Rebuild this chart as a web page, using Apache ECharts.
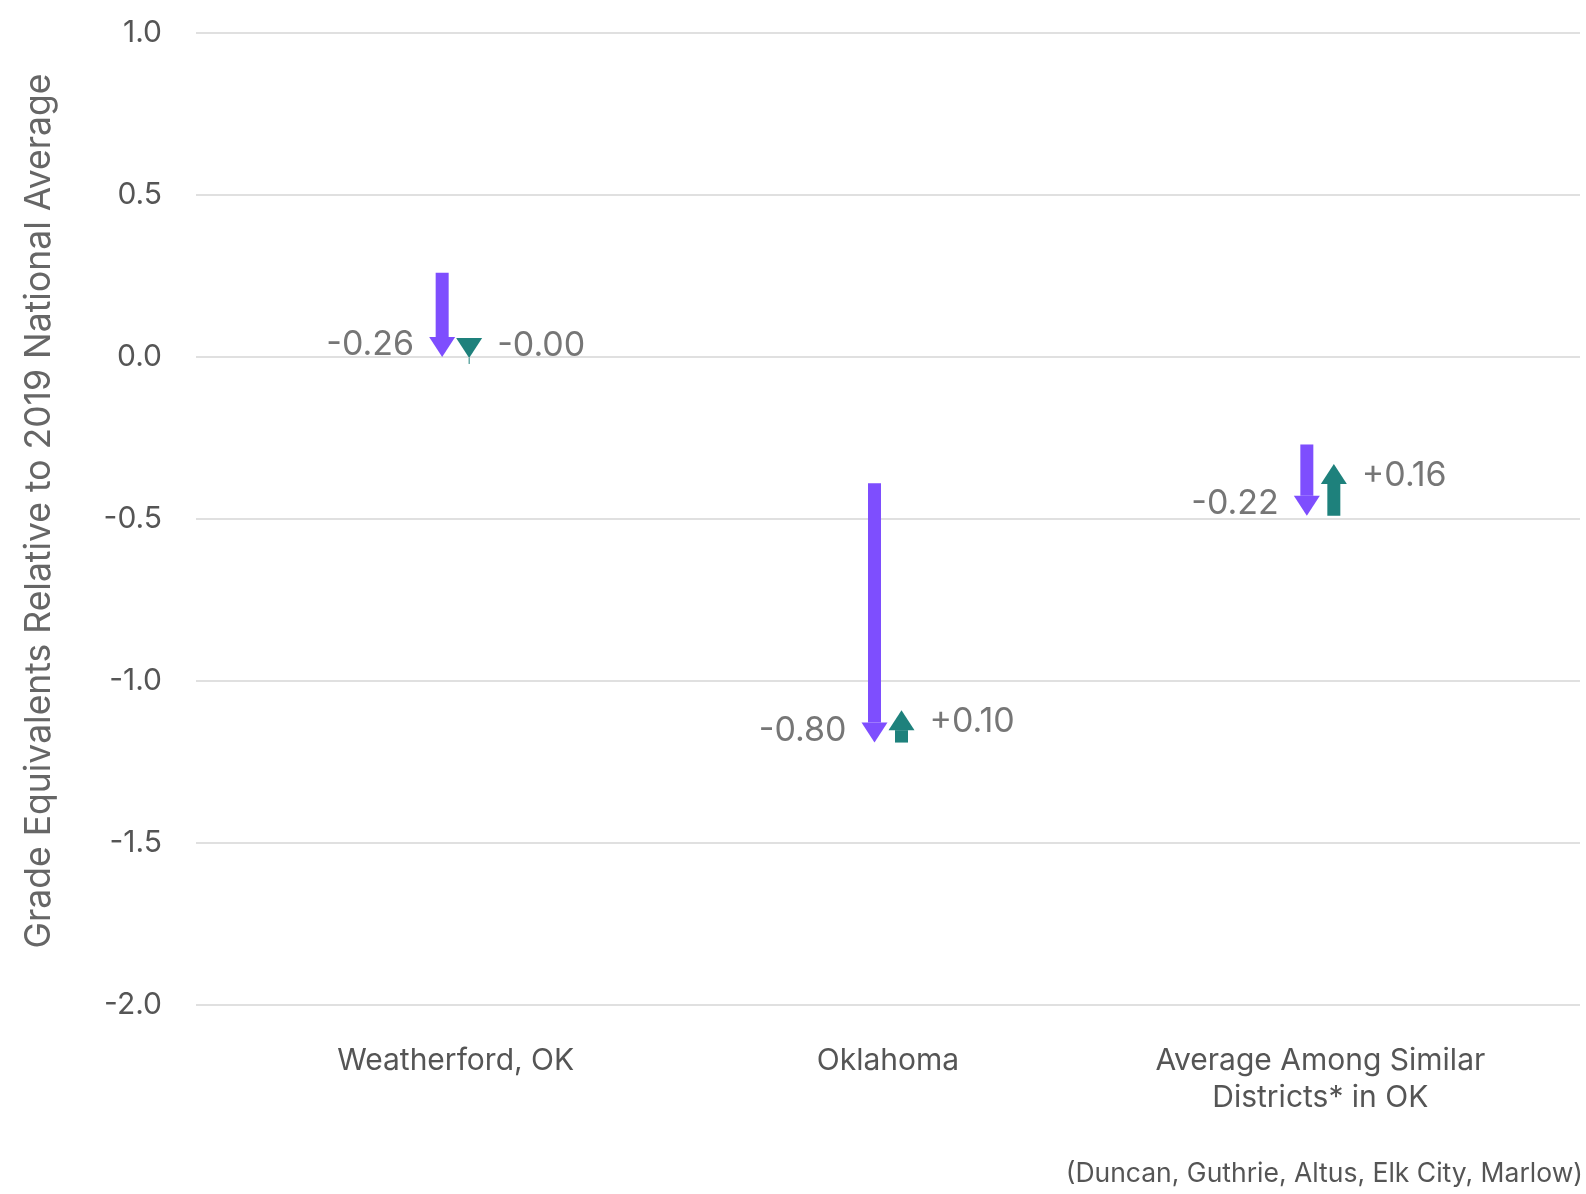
<!DOCTYPE html>
<html lang="en">
<head>
  <meta charset="UTF-8">
  <title>Grade Equivalents Relative to 2019 National Average</title>
  <script src="https://cdn.jsdelivr.net/npm/echarts@6/dist/echarts.min.js"></script>
  <style>body{margin:0;font-family:Inter}</style>
</head>
<body>
  <div id="main" style="width:1586px;height:1194px"></div>

  <script>
  // data
  const categories = ['Weatherford, OK', 'Oklahoma', 'Average Among Similar\nDistricts* in OK'];
  const start2019 = [0.26, -0.39, -0.27];      // where the purple arrow starts
  const change2022 = [-0.26, -0.80, -0.22];    // purple: 2019 -> 2022
  const change2023 = [-0.003, 0.10, 0.16];     // teal: 2022 -> 2023
  const yTicks = { min: -2, max: 1, interval: 0.5 };

  const PURPLE = '#7e4efe';
  const TEAL = '#1e817c';

  const fmt = v => (v < 0 || Object.is(v, -0) ? '-' : '+') + Math.abs(v).toFixed(2);

  const purpleData = categories.map((c, i) => [i, start2019[i], start2019[i] + change2022[i], change2022[i]]);
  const tealData = categories.map((c, i) => {
    const s = start2019[i] + change2022[i];
    return [i, s, s + change2023[i], change2023[i]];
  });

  function arrow(color, offset, side) {
    return function (params, api) {
      const idx = api.value(0);
      const p0 = api.coord([idx, api.value(1)]);
      const p1 = api.coord([idx, api.value(2)]);
      const change = api.value(3);
      const dir = change < 0 ? 1 : -1;       // 1 = pointing down on screen
      const x = p0[0] + offset;
      const headH = 20, headW = 13, shaftW = 6.5;
      const baseY = p1[1] - dir * headH;
      const children = [];
      if ((baseY - p0[1]) * dir > 0) {
        children.push({
          type: 'rect',
          shape: { x: x - shaftW, y: Math.min(p0[1], baseY), width: shaftW * 2, height: Math.abs(baseY - p0[1]) },
          style: { fill: color }
        });
      } else {
        // tiny change: only a hairline stem under the head
        children.push({
          type: 'line',
          shape: { x1: x, y1: p1[1], x2: x, y2: p1[1] + dir * 6 },
          style: { stroke: color, lineWidth: 1 }
        });
      }
      children.push({
        type: 'polygon',
        shape: { points: [[x, p1[1]], [x - headW, baseY], [x + headW, baseY]] },
        style: { fill: color }
      });
      children.push({
        type: 'text',
        x: x + side * 28,
        y: p1[1] - dir * 12,
        style: {
          text: fmt(change),
          fontSize: 34,
          fontFamily: 'Inter',
          fill: '#767676',
          align: side < 0 ? 'right' : 'left',
          verticalAlign: 'middle'
        }
      });
      return { type: 'group', children };
    };
  }

  const chart = echarts.init(document.getElementById('main'));
  chart.setOption({
    animation: false,
    textStyle: { fontFamily: 'Inter' },
    grid: [
      { left: 196, right: 6, top: 33, bottom: 189 },
      { left: 239.5, right: 49.5, top: 33, bottom: 189 }
    ],
    xAxis: [
      { gridIndex: 0, type: 'value', show: false, min: 0, max: 1 },
      {
        gridIndex: 1, type: 'category', data: categories,
        axisLine: { show: false }, axisTick: { show: false },
        axisLabel: { fontSize: 30, color: '#555', margin: 37, lineHeight: 37 }
      }
    ],
    yAxis: [
      {
        gridIndex: 0, type: 'value', min: yTicks.min, max: yTicks.max, interval: yTicks.interval,
        axisLine: { show: false }, axisTick: { show: false },
        axisLabel: { fontSize: 30, color: '#555', margin: 34, formatter: v => v.toFixed(1) },
        splitLine: { lineStyle: { color: '#e0e0e0', width: 2 } }
      },
      {
        gridIndex: 1, type: 'value', min: yTicks.min, max: yTicks.max, interval: yTicks.interval,
        show: false, splitLine: { show: false }
      }
    ],
    graphic: [
      {
        type: 'text', x: 39, y: 511, rotation: Math.PI / 2,
        style: {
          text: 'Grade Equivalents Relative to 2019 National Average',
          fontSize: 35.5, fontFamily: 'Inter', fill: '#666', align: 'center', verticalAlign: 'middle'
        }
      },
      {
        type: 'text', x: 1583, y: 1174,
        style: {
          text: '(Duncan, Guthrie, Altus, Elk City, Marlow)',
          fontSize: 26.5, fontFamily: 'Inter', fill: '#555', align: 'right', verticalAlign: 'middle'
        }
      }
    ],
    series: [
      {
        name: '2019 to 2022', type: 'custom', xAxisIndex: 1, yAxisIndex: 1,
        renderItem: arrow(PURPLE, -13.5, -1), data: purpleData
      },
      {
        name: '2022 to 2023', type: 'custom', xAxisIndex: 1, yAxisIndex: 1,
        renderItem: arrow(TEAL, 13.5, 1), data: tealData
      }
    ]
  });
  </script>
</body>
</html>
